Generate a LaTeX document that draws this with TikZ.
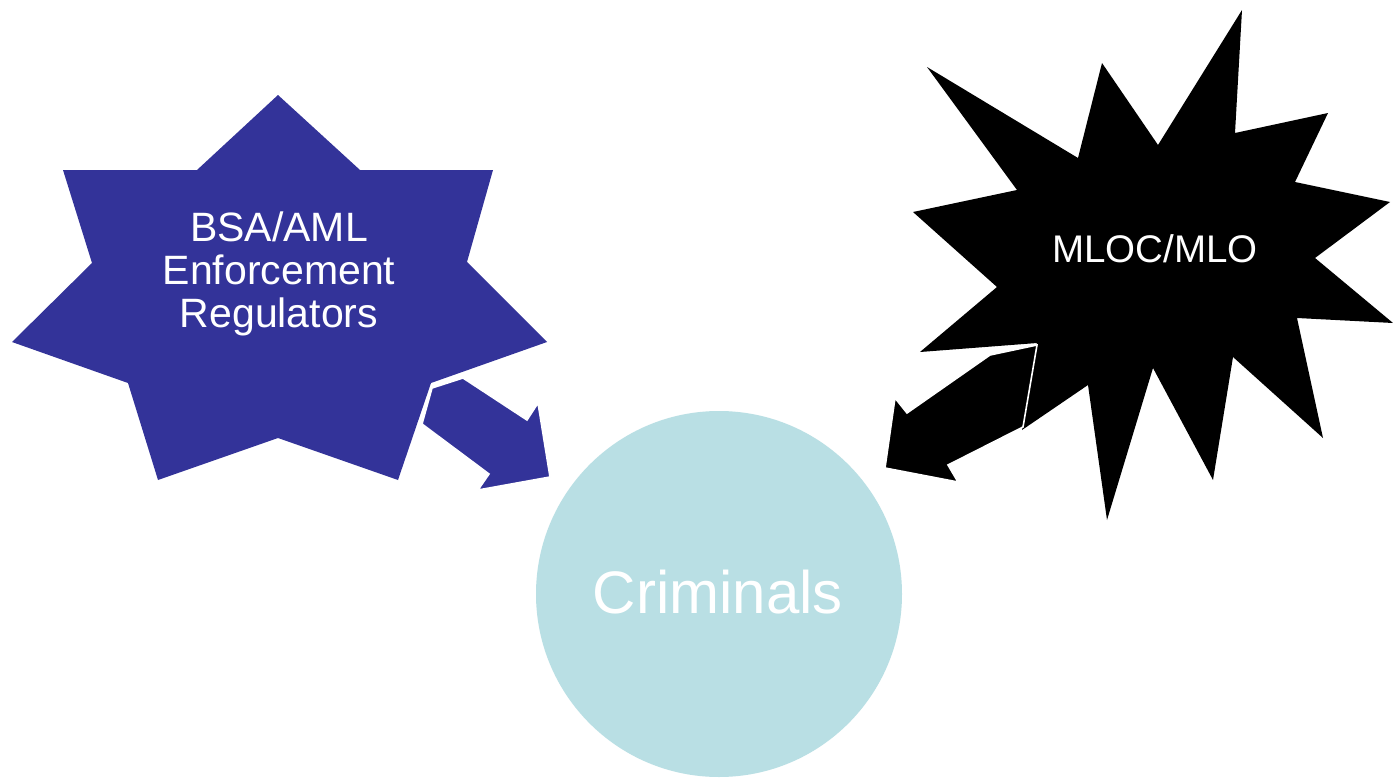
\documentclass[tikz,border=0pt]{standalone}
\usepackage{fontspec}
\setmainfont{Liberation Sans}
\definecolor{starblue}{RGB}{51,51,153}
\definecolor{crimfill}{RGB}{185,223,228}
\tikzset{
  starshape/.style={line join=miter},
  blockarrow/.style={draw=white, line width=1.6pt, line join=miter},
  startext/.style={text=white, align=center, inner sep=0pt}
}
\begin{document}
\begin{tikzpicture}[x=1pt,y=-1pt]
\useasboundingbox[fill=white] (0,0) rectangle (1393,779);
% circle
\node[circle, fill=crimfill, minimum size=366pt, inner sep=0pt] (crim) at (719,594) {};
\node[text=white, font=\fontsize{60}{64}\selectfont, inner sep=0pt] (crimtext) at (718,592) {Criminals};
% blue star
\fill[starblue, starshape] (278,95) -- (360,170) -- (493,170) -- (467,262) -- (547,342)
  -- (431,383) -- (398,480) -- (278,438) -- (158,480) -- (128,383) -- (12,342)
  -- (92,263) -- (63,170) -- (197,170) -- cycle;
\node[startext, font=\fontsize{41}{43}\selectfont] (bsa) at (279,274) {BSA/AML\\Enforcement\\Regulators};
% blue arrow
\filldraw[fill=starblue, blockarrow] (463,378) -- (432,388) -- (422,424) -- (489,474)
  -- (478,490) -- (550,477) -- (538,403) -- (527,420) -- cycle;
% black star
\fill[black, starshape] (927,67) -- (1078,158) -- (1102,63) -- (1158,145) -- (1242,10)
  -- (1235,133) -- (1328,113) -- (1295,182) -- (1390,202) -- (1315,258) -- (1393,323)
  -- (1297,318) -- (1323,438) -- (1233,357) -- (1213,480) -- (1153,368) -- (1107,520)
  -- (1088,385) -- (1022,430) -- (1037,343) -- (920,352) -- (997,287) -- (913,212)
  -- (1017,190) -- cycle;
\node[startext, font=\fontsize{38.5}{42}\selectfont] (mloc) at (1155,249) {MLOC/MLO};
% black arrow
\filldraw[fill=black, blockarrow] (1037,345) -- (1023,427) -- (948,465) -- (958,482)
  -- (885,468) -- (895,398) -- (907,413) -- (990,355) -- cycle;
\end{tikzpicture}
\end{document}
